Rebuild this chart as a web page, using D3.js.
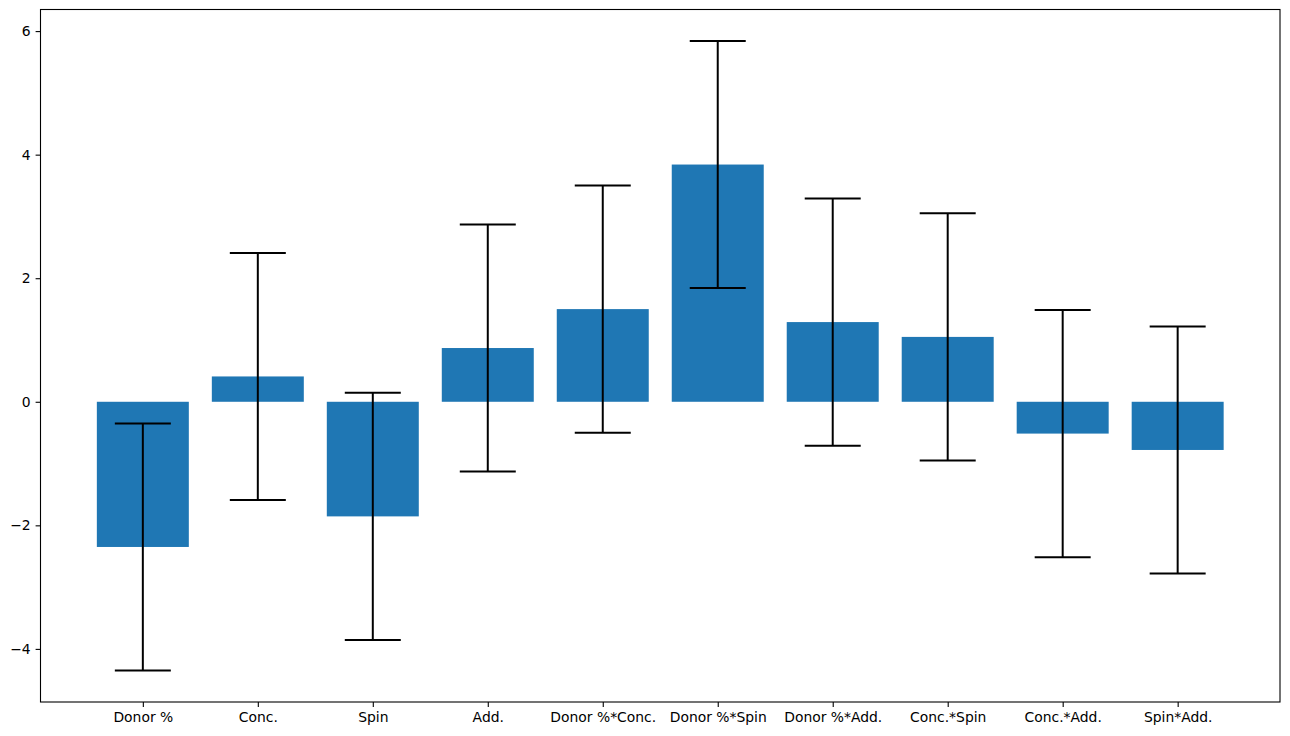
<!DOCTYPE html>
<html>
<head>
<meta charset="utf-8">
<script src="https://cdn.jsdelivr.net/npm/d3@7"></script>
<style>
  body { margin: 0; background: #fff; }
  svg { display: block; font-family: "DejaVu Sans", sans-serif; }
</style>
</head>
<body>
<script>
// data
const categories = ['Donor %', 'Conc.', 'Spin', 'Add.', 'Donor %*Conc.', 'Donor %*Spin', 'Donor %*Add.', 'Conc.*Spin', 'Conc.*Add.', 'Spin*Add.'];
const effects = [-2.35, 0.41, -1.855, 0.87, 1.50, 3.84, 1.29, 1.05, -0.515, -0.78];
const errors = [2.0, 2.0, 2.0, 2.0, 2.0, 2.0, 2.0, 2.0, 2.0, 2.0];
const yTicks = [-4, -2, 0, 2, 4, 6];

const W = 1290, H = 736;
const margin = { top: 9.5, right: 10, bottom: 34, left: 40.5 }; // marges
const width = W - margin.left - margin.right;
const height = H - margin.top - margin.bottom;

const svg = d3.select('body').append('svg')
  .attr('width', W)
  .attr('height', H);

const g = svg.append('g')
  .attr('transform', `translate(${margin.left},${margin.top})`);

// x zoals matplotlib: bars op 0..n-1, breedte 0.8, 5% marge
const n = categories.length;
const xlo = -0.4, xhi = n - 1 + 0.4;
const xpad = (xhi - xlo) * 0.05;
const x = d3.scaleLinear().domain([xlo - xpad, xhi + xpad]).range([0, width]);

// y inclusief foutbalken, 5% marge
const lows = effects.map((d, i) => Math.min(0, d - errors[i]));
const highs = effects.map((d, i) => Math.max(0, d + errors[i]));
const ylo = d3.min(lows), yhi = d3.max(highs);
const ypad = (yhi - ylo) * 0.05;
const y = d3.scaleLinear().domain([ylo - ypad, yhi + ypad]).range([height, 0]);

// bars
g.selectAll('rect.bar').data(effects).join('rect')
  .attr('class', 'bar')
  .attr('x', (d, i) => x(i - 0.4))
  .attr('width', x(0.8) - x(0))
  .attr('y', d => y(Math.max(0, d)))
  .attr('height', d => Math.abs(y(d) - y(0)))
  .attr('fill', '#1f77b4');

// foutbalken
const cap = 28;
const eb = g.selectAll('g.err').data(effects).join('g').attr('class', 'err');
eb.append('line')
  .attr('x1', (d, i) => x(i)).attr('x2', (d, i) => x(i))
  .attr('y1', (d, i) => y(d - errors[i])).attr('y2', (d, i) => y(d + errors[i]))
  .attr('stroke', '#000').attr('stroke-width', 2);
eb.append('line')
  .attr('x1', (d, i) => x(i) - cap).attr('x2', (d, i) => x(i) + cap)
  .attr('y1', (d, i) => y(d + errors[i])).attr('y2', (d, i) => y(d + errors[i]))
  .attr('stroke', '#000').attr('stroke-width', 2);
eb.append('line')
  .attr('x1', (d, i) => x(i) - cap).attr('x2', (d, i) => x(i) + cap)
  .attr('y1', (d, i) => y(d - errors[i])).attr('y2', (d, i) => y(d - errors[i]))
  .attr('stroke', '#000').attr('stroke-width', 2);

// assen
const xAxis = d3.axisBottom(x)
  .tickValues(d3.range(n))
  .tickFormat(i => categories[i])
  .tickSize(4.9).tickPadding(4.9);
const gx = g.append('g').attr('transform', `translate(0,${height})`).call(xAxis);

const yAxis = d3.axisLeft(y)
  .tickValues(yTicks)
  .tickFormat(d => d < 0 ? '\u2212' + Math.abs(d) : d)
  .tickSize(4.9).tickPadding(4.9);
const gy = g.append('g').call(yAxis);

[gx, gy].forEach(a => {
  a.select('.domain').remove();
  a.selectAll('.tick line').attr('stroke', '#000').attr('stroke-width', 1.1);
  a.selectAll('.tick text').attr('fill', '#000')
    .style('font-family', '"DejaVu Sans", sans-serif').style('font-size', '13.9px');
});

// kader
g.append('rect')
  .attr('x', 0).attr('y', 0)
  .attr('width', width).attr('height', height)
  .attr('fill', 'none').attr('stroke', '#000').attr('stroke-width', 1.1);
</script>
</body>
</html>
